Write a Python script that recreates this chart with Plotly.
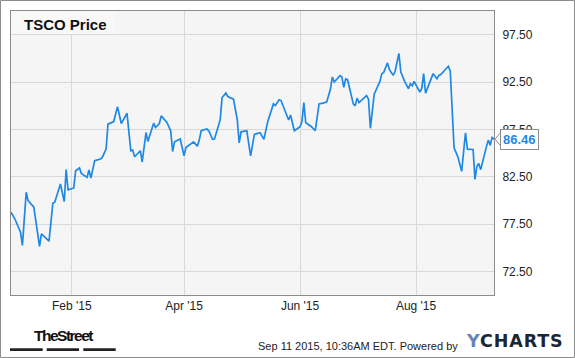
import plotly.graph_objects as go

# ---- data ----
dates = [
    "2014-12-31", "2015-01-02", "2015-01-05", "2015-01-06", "2015-01-08", "2015-01-09",
    "2015-01-12", "2015-01-13", "2015-01-15", "2015-01-16", "2015-01-18", "2015-01-20",
    "2015-01-22", "2015-01-23", "2015-01-26", "2015-01-28", "2015-01-29", "2015-01-30",
    "2015-02-02", "2015-02-03", "2015-02-05", "2015-02-06", "2015-02-09", "2015-02-10",
    "2015-02-11", "2015-02-13", "2015-02-16", "2015-02-17", "2015-02-19", "2015-02-20",
    "2015-02-23", "2015-02-25", "2015-02-27", "2015-03-02", "2015-03-04", "2015-03-05",
    "2015-03-06", "2015-03-09", "2015-03-10", "2015-03-12", "2015-03-13", "2015-03-16",
    "2015-03-17", "2015-03-19", "2015-03-20", "2015-03-23", "2015-03-25", "2015-03-26",
    "2015-03-27", "2015-03-30", "2015-04-01", "2015-04-02", "2015-04-06", "2015-04-08",
    "2015-04-09", "2015-04-10", "2015-04-13", "2015-04-14", "2015-04-16", "2015-04-17",
    "2015-04-20", "2015-04-21", "2015-04-23", "2015-04-24", "2015-04-27", "2015-04-29",
    "2015-04-30", "2015-05-01", "2015-05-04", "2015-05-06", "2015-05-08", "2015-05-11",
    "2015-05-13", "2015-05-15", "2015-05-18", "2015-05-19", "2015-05-21", "2015-05-22",
    "2015-05-26", "2015-05-27", "2015-05-29", "2015-06-01", "2015-06-02", "2015-06-03",
    "2015-06-04", "2015-06-07", "2015-06-09", "2015-06-11", "2015-06-13", "2015-06-15",
    "2015-06-17", "2015-06-18", "2015-06-19", "2015-06-22", "2015-06-23", "2015-06-24",
    "2015-06-25", "2015-06-26", "2015-06-29", "2015-06-30", "2015-07-01", "2015-07-02",
    "2015-07-06", "2015-07-07", "2015-07-08", "2015-07-10", "2015-07-13", "2015-07-14",
    "2015-07-15", "2015-07-17", "2015-07-18", "2015-07-20", "2015-07-21", "2015-07-23",
    "2015-07-24", "2015-07-26", "2015-07-28", "2015-07-29", "2015-07-30", "2015-07-31",
    "2015-08-03", "2015-08-04", "2015-08-05", "2015-08-06", "2015-08-10", "2015-08-12",
    "2015-08-13", "2015-08-14", "2015-08-18", "2015-08-19", "2015-08-21", "2015-08-23",
    "2015-08-25", "2015-08-27", "2015-08-28", "2015-08-31", "2015-09-01", "2015-09-02",
    "2015-09-03", "2015-09-04", "2015-09-07", "2015-09-08", "2015-09-09", "2015-09-10",
    "2015-09-11",
]
prices = [
    78.74, 78.05, 76.64, 75.24, 80.85, 79.97,
    79.27, 78.05, 75.13, 76.46, 76.11, 75.69,
    79.69, 79.80, 81.73, 79.87, 83.24, 81.10,
    81.31, 83.13, 83.42, 82.85, 82.43, 83.20,
    82.36, 84.18, 84.36, 84.53, 85.41, 88.05,
    88.32, 89.90, 88.11, 89.20, 85.24, 85.31,
    84.60, 85.24, 84.05, 87.16, 86.22, 88.15,
    87.69, 88.11, 88.92, 88.22, 87.34, 85.16,
    86.18, 86.47, 84.71, 85.58, 86.18, 85.72,
    86.36, 87.35, 87.53, 87.35, 86.44, 86.47,
    88.49, 90.86, 91.33, 90.97, 90.69, 88.49,
    86.07, 87.24, 87.35, 84.69, 86.97, 87.14,
    86.44, 88.31, 90.19, 90.01, 90.62, 90.54,
    88.49, 89.02, 87.35, 87.78, 88.31, 90.33,
    88.20, 87.78, 87.35, 90.19, 90.27, 90.37,
    91.76, 93.03, 92.50, 93.17, 93.03, 91.93,
    92.82, 92.74, 90.19, 89.98, 90.80, 90.33,
    91.07, 90.69, 87.61, 91.22, 92.56, 93.38,
    93.52, 94.52, 93.81, 93.20, 93.63, 95.51,
    93.56, 92.56, 91.79, 92.32, 92.11, 92.56,
    91.44, 91.79, 93.38, 91.33, 93.38, 92.85,
    93.20, 93.28, 94.16, 93.63, 85.54, 84.59,
    83.06, 87.14, 85.40, 85.37, 82.21, 83.60,
    83.88, 83.24, 85.65, 86.36, 85.82, 86.64,
    86.46,
]
x_range = ["2014-12-31", "2015-09-11"]
x_tick_vals = ["2015-02-01", "2015-04-01", "2015-06-01", "2015-08-01"]
x_tick_text = ["Feb '15", "Apr '15", "Jun '15", "Aug '15"]
y_range = [70, 100]
y_tick_vals = [72.5, 77.5, 82.5, 87.5, 92.5, 97.5]
title_text = "TSCO Price"
last_label = f"{prices[-1]:.2f}"
footer_text = "Sep 11 2015, 10:36AM EDT. Powered by"

# ---- layout geometry (pixels) ----
W, H = 575, 358
PL, PR, PT, PB = 11, 494, 11, 295


def px(x):
    return (x - PL) / (PR - PL)


def py(y):
    return (PB - y) / (PB - PT)


LINE_COLOR = "#1e88e5"
FONT = "Liberation Sans, Arial, sans-serif"

fig = go.Figure()
fig.add_trace(go.Scatter(
    x=dates, y=prices, mode="lines",
    line=dict(color=LINE_COLOR, width=1.7),
    hoverinfo="skip", showlegend=False,
))

shapes = [
    # outer frame of the image
    dict(type="rect", xref="paper", yref="paper",
         x0=px(0.5), x1=px(574.5), y0=py(0.5), y1=py(357.5),
         line=dict(color="#8c8c8c", width=1), fillcolor="rgba(0,0,0,0)", layer="above"),
    # title box
    dict(type="rect", xref="paper", yref="paper",
         x0=px(PL + 0.5), x1=px(115), y0=py(PT + 0.5), y1=py(34),
         line=dict(width=0), fillcolor="#f8f8f8", layer="above"),
    # chevron of the last value label
    dict(type="path", xref="paper", yref="y", xsizemode="pixel", ysizemode="pixel",
         xanchor=1, yanchor=prices[-1], path="M 6,6 L 1,0 L 6,-6",
         line=dict(color="#8c8c8c", width=1), fillcolor="white", layer="above"),
]
# TheStreet logo bars
for x0, x1 in [(10, 42.7), (46.7, 79), (83.3, 115.7)]:
    shapes.append(dict(type="rect", xref="paper", yref="paper",
                       x0=px(x0), x1=px(x1), y0=py(351), y1=py(348.3),
                       line=dict(width=0), fillcolor="#222222", layer="above"))

annotations = [
    dict(text=f"<b>{title_text}</b>", xref="paper", yref="paper",
         x=px(22), y=py(24), xanchor="left", yanchor="middle", showarrow=False,
         font=dict(family=FONT, size=15, color="#111111")),
    dict(text=f"<b>{last_label}</b>", xref="paper", yref="y",
         x=1, y=prices[-1], xanchor="left", yanchor="middle", xshift=6,
         showarrow=False, bgcolor="white", bordercolor="#8c8c8c", borderwidth=1,
         borderpad=2, font=dict(family=FONT, size=13, color=LINE_COLOR)),
    dict(text="<span style='letter-spacing:-1.5px'><b>TheStreet</b></span>",
         xref="paper", yref="paper",
         x=px(63.5), y=py(335.5), xanchor="center", yanchor="middle", showarrow=False,
         font=dict(family=FONT, size=15.5, color="#111111")),
    dict(text=footer_text, xref="paper", yref="paper",
         x=px(460), y=py(345.5), xanchor="right", yanchor="middle", showarrow=False,
         font=dict(family=FONT, size=11, color="#222222")),
    dict(text="<span style='letter-spacing:0.9px'><b><span style='color:#6585b8'>Y</span>CHARTS</b></span>",
         xref="paper", yref="paper",
         x=px(464), y=py(341), xanchor="left", yanchor="middle", showarrow=False,
         font=dict(family="DejaVu Sans, sans-serif", size=17.5, color="#1c2534")),
]

fig.update_layout(
    width=W, height=H,
    margin=dict(l=PL, r=W - PR, t=PT, b=H - PB, pad=0),
    paper_bgcolor="white", plot_bgcolor="#f5f5f5",
    shapes=shapes, annotations=annotations,
    font=dict(family=FONT, size=12, color="#222222"),
    hovermode=False,
)
fig.update_xaxes(
    type="date", range=x_range, tickvals=x_tick_vals, ticktext=x_tick_text,
    showgrid=True, gridcolor="#d8d8d8", gridwidth=1,
    showline=True, linecolor="#8c8c8c", linewidth=1, mirror=True,
    ticks="", tickfont=dict(family=FONT, size=12, color="#222222"),
    zeroline=False, fixedrange=True,
)
fig.update_yaxes(
    range=y_range, side="right", tickvals=y_tick_vals, tickformat=".2f",
    showgrid=True, gridcolor="#d8d8d8", gridwidth=1,
    showline=True, linecolor="#8c8c8c", linewidth=1, mirror=True,
    ticks="", ticklabelstandoff=5, tickfont=dict(family=FONT, size=12, color="#222222"),
    zeroline=False, fixedrange=True,
)

fig.write_html(
    "out.html",
    config={"displayModeBar": False, "staticPlot": True},
    post_script="document.body.style.margin='0';document.body.style.padding='0';"
                "document.body.style.overflow='hidden';",
)
